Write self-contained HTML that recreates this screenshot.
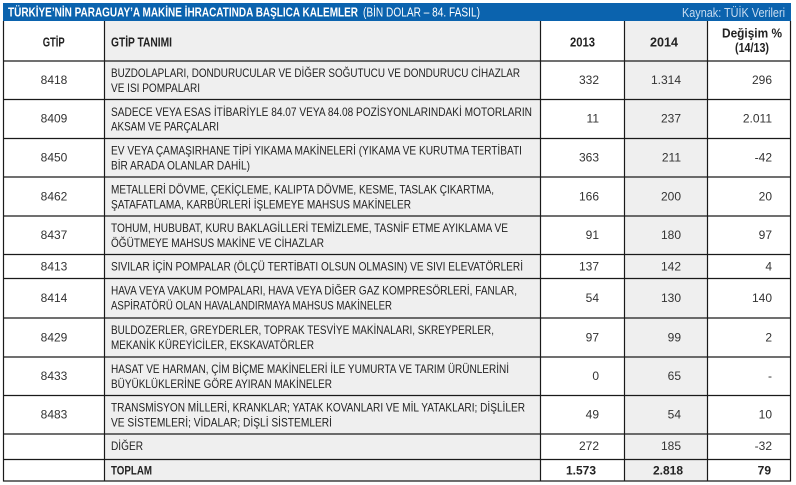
<!DOCTYPE html>
<html><head><meta charset="utf-8"><style>
html,body{margin:0;padding:0;background:#fff;}
svg{display:block;}
text{font-family:"Liberation Sans",sans-serif;fill:#222;}
.t{font-size:12px;}
.n{font-size:12px;fill:#333;}
.h{font-size:12.5px;font-weight:bold;}
</style></head><body>
<svg width="796" height="485" viewBox="0 0 796 485" xmlns="http://www.w3.org/2000/svg">
<rect x="0" y="0" width="796" height="485" fill="#fff"/>
<!-- title bar -->
<rect x="3" y="3" width="788" height="18" fill="#0b63ae"/>
<text x="8" y="16.7" style="font-size:12.5px;font-weight:bold;fill:#fff" textLength="350" lengthAdjust="spacingAndGlyphs">TÜRKİYE’NİN PARAGUAY’A MAKİNE İHRACATINDA BAŞLICA KALEMLER</text>
<text x="363" y="16.7" style="font-size:12.5px;fill:#fff" textLength="117" lengthAdjust="spacingAndGlyphs">(BİN DOLAR – 84. FASIL)</text>
<text x="682" y="17" style="font-size:12.5px;fill:#c9ddf1" textLength="103" lengthAdjust="spacingAndGlyphs">Kaynak: TÜİK Verileri</text>
<!-- gray columns -->
<rect x="104" y="21" width="436" height="460" fill="#efefef"/>
<rect x="624" y="21" width="83" height="460" fill="#efefef"/>
<!-- grid -->
<g stroke="#1a1a1a" stroke-width="1.2" fill="none">
<line x1="3.5" y1="21" x2="3.5" y2="481.5"/>
<line x1="104.5" y1="21" x2="104.5" y2="481.5"/>
<line x1="540.5" y1="21" x2="540.5" y2="481.5"/>
<line x1="624.5" y1="21" x2="624.5" y2="481.5"/>
<line x1="707.5" y1="21" x2="707.5" y2="481.5"/>
<line x1="790.5" y1="21" x2="790.5" y2="481.5"/>
<line x1="3" y1="61" x2="791" y2="61"/>
<line x1="3" y1="99.5" x2="791" y2="99.5"/>
<line x1="3" y1="138.5" x2="791" y2="138.5"/>
<line x1="3" y1="177" x2="791" y2="177"/>
<line x1="3" y1="216" x2="791" y2="216"/>
<line x1="3" y1="254.5" x2="791" y2="254.5"/>
<line x1="3" y1="278.5" x2="791" y2="278.5"/>
<line x1="3" y1="318" x2="791" y2="318"/>
<line x1="3" y1="357" x2="791" y2="357"/>
<line x1="3" y1="395.5" x2="791" y2="395.5"/>
<line x1="3" y1="434" x2="791" y2="434"/>
<line x1="3" y1="459.5" x2="791" y2="459.5"/>
<line x1="3" y1="481" x2="791" y2="481"/>
</g>
<!-- header -->
<text class="h" x="42.7" y="46.7" textLength="22" lengthAdjust="spacingAndGlyphs">GTİP</text>
<text class="h" x="111" y="46.7" textLength="61" lengthAdjust="spacingAndGlyphs">GTİP TANIMI</text>
<text class="h" x="570" y="46.7" textLength="25" lengthAdjust="spacingAndGlyphs">2013</text>
<text class="h" x="650" y="46.7" textLength="28" lengthAdjust="spacingAndGlyphs">2014</text>
<text class="h" x="722" y="37.5" textLength="60" lengthAdjust="spacingAndGlyphs">Değişim %</text>
<text class="h" x="735" y="52" textLength="34" lengthAdjust="spacingAndGlyphs">(14/13)</text>

<!-- GTIP codes -->
<g class="n" text-anchor="middle">
<text class="n" x="54" y="84">8418</text>
<text class="n" x="54" y="122.5">8409</text>
<text class="n" x="54" y="161.5">8450</text>
<text class="n" x="54" y="200.5">8462</text>
<text class="n" x="54" y="239">8437</text>
<text class="n" x="54" y="270.5">8413</text>
<text class="n" x="54" y="302">8414</text>
<text class="n" x="54" y="341.5">8429</text>
<text class="n" x="54" y="380">8433</text>
<text class="n" x="54" y="418.5">8483</text>
</g>

<!-- descriptions -->
<g class="t">
<text class="t" x="111" y="77" textLength="409" lengthAdjust="spacingAndGlyphs">BUZDOLAPLARI, DONDURUCULAR VE DİĞER SOĞUTUCU VE DONDURUCU CİHAZLAR</text>
<text class="t" x="111" y="92" textLength="89" lengthAdjust="spacingAndGlyphs">VE ISI POMPALARI</text>
<text class="t" x="111" y="116" textLength="421" lengthAdjust="spacingAndGlyphs">SADECE VEYA ESAS İTİBARİYLE 84.07 VEYA 84.08 POZİSYONLARINDAKİ MOTORLARIN</text>
<text class="t" x="111" y="130.5" textLength="108" lengthAdjust="spacingAndGlyphs">AKSAM VE PARÇALARI</text>
<text class="t" x="111" y="154.5" textLength="411" lengthAdjust="spacingAndGlyphs">EV VEYA ÇAMAŞIRHANE TİPİ YIKAMA MAKİNELERİ (YIKAMA VE KURUTMA TERTİBATI</text>
<text class="t" x="111" y="169.5" textLength="139" lengthAdjust="spacingAndGlyphs">BİR ARADA OLANLAR DAHİL)</text>
<text class="t" x="111" y="193.5" textLength="383" lengthAdjust="spacingAndGlyphs">METALLERİ DÖVME, ÇEKİÇLEME, KALIPTA DÖVME, KESME, TASLAK ÇIKARTMA,</text>
<text class="t" x="111" y="208.5" textLength="300" lengthAdjust="spacingAndGlyphs">ŞATAFATLAMA, KARBÜRLERİ İŞLEMEYE MAHSUS MAKİNELER</text>
<text class="t" x="111" y="232" textLength="397" lengthAdjust="spacingAndGlyphs">TOHUM, HUBUBAT, KURU BAKLAGİLLERİ TEMİZLEME, TASNİF ETME AYIKLAMA VE</text>
<text class="t" x="111" y="247" textLength="213" lengthAdjust="spacingAndGlyphs">ÖĞÜTMEYE MAHSUS MAKİNE VE CİHAZLAR</text>
<text class="t" x="111" y="270.5" textLength="412" lengthAdjust="spacingAndGlyphs">SIVILAR İÇİN POMPALAR (ÖLÇÜ TERTİBATI OLSUN OLMASIN) VE SIVI ELEVATÖRLERİ</text>
<text class="t" x="111" y="294.5" textLength="406" lengthAdjust="spacingAndGlyphs">HAVA VEYA VAKUM POMPALARI, HAVA VEYA DİĞER GAZ KOMPRESÖRLERİ, FANLAR,</text>
<text class="t" x="111" y="309.5" textLength="281" lengthAdjust="spacingAndGlyphs">ASPİRATÖRÜ OLAN HAVALANDIRMAYA MAHSUS MAKİNELER</text>
<text class="t" x="111" y="334" textLength="383" lengthAdjust="spacingAndGlyphs">BULDOZERLER, GREYDERLER, TOPRAK TESVİYE MAKİNALARI, SKREYPERLER,</text>
<text class="t" x="111" y="349" textLength="203" lengthAdjust="spacingAndGlyphs">MEKANİK KÜREYİCİLER, EKSKAVATÖRLER</text>
<text class="t" x="111" y="373" textLength="398" lengthAdjust="spacingAndGlyphs">HASAT VE HARMAN, ÇİM BİÇME MAKİNELERİ İLE YUMURTA VE TARIM ÜRÜNLERİNİ</text>
<text class="t" x="111" y="388" textLength="221" lengthAdjust="spacingAndGlyphs">BÜYÜKLÜKLERİNE GÖRE AYIRAN MAKİNELER</text>
<text class="t" x="111" y="411.5" textLength="414" lengthAdjust="spacingAndGlyphs">TRANSMİSYON MİLLERİ, KRANKLAR; YATAK KOVANLARI VE MİL YATAKLARI; DİŞLİLER</text>
<text class="t" x="111" y="426.5" textLength="221" lengthAdjust="spacingAndGlyphs">VE SİSTEMLERİ; VİDALAR; DİŞLİ SİSTEMLERİ</text>
<text class="t" x="111" y="450" textLength="32" lengthAdjust="spacingAndGlyphs">DİĞER</text>
<text class="t" x="111" y="474.5" style="font-weight:bold" textLength="41" lengthAdjust="spacingAndGlyphs">TOPLAM</text>
</g>

<!-- 2013 -->
<g text-anchor="end">
<text class="n" x="599" y="84">332</text>
<text class="n" x="599" y="122.5">11</text>
<text class="n" x="599" y="161.5">363</text>
<text class="n" x="599" y="200.5">166</text>
<text class="n" x="599" y="239">91</text>
<text class="n" x="599" y="270.5">137</text>
<text class="n" x="599" y="302">54</text>
<text class="n" x="599" y="341.5">97</text>
<text class="n" x="599" y="380">0</text>
<text class="n" x="599" y="418.5">49</text>
<text class="n" x="599" y="450">272</text>
<text class="n" x="596" y="474.5" style="font-weight:bold;fill:#222">1.573</text>
<!-- 2014 -->
<text class="n" x="681" y="84">1.314</text>
<text class="n" x="681" y="122.5">237</text>
<text class="n" x="681" y="161.5">211</text>
<text class="n" x="681" y="200.5">200</text>
<text class="n" x="681" y="239">180</text>
<text class="n" x="681" y="270.5">142</text>
<text class="n" x="681" y="302">130</text>
<text class="n" x="681" y="341.5">99</text>
<text class="n" x="681" y="380">65</text>
<text class="n" x="681" y="418.5">54</text>
<text class="n" x="681" y="450">185</text>
<text class="n" x="683" y="474.5" style="font-weight:bold;fill:#222">2.818</text>
<!-- change -->
<text class="n" x="772" y="84">296</text>
<text class="n" x="772" y="122.5">2.011</text>
<text class="n" x="772" y="161.5">-42</text>
<text class="n" x="772" y="200.5">20</text>
<text class="n" x="772" y="239">97</text>
<text class="n" x="772" y="270.5">4</text>
<text class="n" x="772" y="302">140</text>
<text class="n" x="772" y="341.5">2</text>
<text class="n" x="772" y="380">-</text>
<text class="n" x="772" y="418.5">10</text>
<text class="n" x="772" y="450">-32</text>
<text class="n" x="771" y="474.5" style="font-weight:bold;fill:#222">79</text>
</g>
</svg>
</body></html>
